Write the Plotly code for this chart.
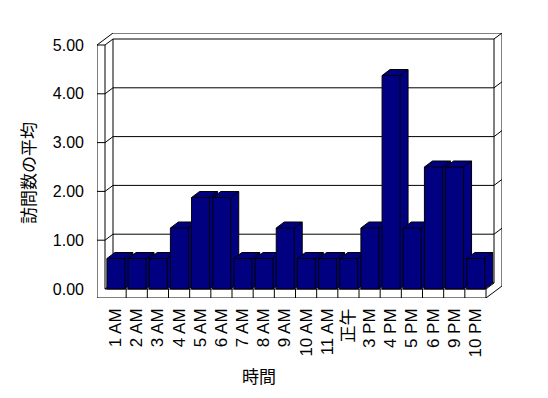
import plotly.graph_objects as go

categories = ["1 AM", "2 AM", "3 AM", "4 AM", "5 AM", "6 AM", "7 AM", "8 AM", "9 AM",
              "10 AM", "11 AM", "正午", "3 PM", "4 PM", "5 PM", "6 PM", "9 PM", "10 PM"]
values = [0.625, 0.625, 0.625, 1.25, 1.875, 1.875, 0.625, 0.625, 1.25,
          0.625, 0.625, 0.625, 1.25, 4.375, 1.25, 2.5, 2.5, 0.625]
y_tickvals = [0, 1, 2, 3, 4, 5]
y_ticktext = ["0.00", "1.00", "2.00", "3.00", "4.00", "5.00"]
y_title = "訪問数の平均"
x_title = "時間"

N = len(categories)
VMAX = y_tickvals[-1]

# pseudo-3D projection (oblique), in data units
SX = 21.17   # px per category
SY = 48.8    # px per value unit
DX = 8 / SX  # depth offset (x) per depth unit
DY = 6 / SY  # depth offset (y) per depth unit
WALL = 8 / SX
FLOOR = 9 / SY

NAVY = "#000080"


def proj(c, v, d):
    return c + d * DX, v + d * DY


def path(*polylines):
    xs, ys = [], []
    for pl in polylines:
        for p in pl:
            x, y = proj(*p)
            xs.append(x)
            ys.append(y)
        xs.append(None)
        ys.append(None)
    return xs, ys


# frame (walls, floor, gridlines)
frame = [
    [(-WALL, -FLOOR, 0), (-WALL, VMAX, 0), (0, VMAX, 0), (0, 0, 0)],
    [(-WALL, -FLOOR, 0), (N, -FLOOR, 0), (N, 0, 0), (0, 0, 0)],
    [(N, -FLOOR, 0), (N, -FLOOR, 2), (N, VMAX, 2)],
    [(N, 0, 0), (N, 0, 1), (N, VMAX, 1)],
    [(-WALL, VMAX, 0), (-WALL, VMAX, 2), (N, VMAX, 2)],
    [(0, VMAX, 0), (0, VMAX, 1), (N, VMAX, 1), (N, VMAX, 2)],
    [(0, 0, 1), (0, VMAX, 1)],
    [(0, 0, 0), (0, 0, 1), (N, 0, 1)],
]
for k in range(1, N):
    frame.append([(k, -FLOOR, 0), (k, 0, 0)])
for v in y_tickvals[1:-1]:
    frame.append([(-WALL, v, 0), (0, v, 0), (0, v, 1), (N, v, 1), (N, v, 2)])

fig = go.Figure()
fx, fy = path(*frame)
fig.add_trace(go.Scatter(x=fx, y=fy, mode="lines", line=dict(color="black", width=1),
                         hoverinfo="skip", showlegend=False))

for i, v in enumerate(values):
    c0, c1 = i + 0.09, i + 0.94
    sx, sy = path([(c0, 0, 0), (c0, v, 0), (c0, v, 1), (c1, v, 1), (c1, 0, 1), (c1, 0, 0), (c0, 0, 0)])
    fig.add_trace(go.Scatter(x=sx[:-1], y=sy[:-1], mode="lines", fill="toself", fillcolor=NAVY,
                             line=dict(color="black", width=1), hoverinfo="skip", showlegend=False))
    ex, ey = path([(c0, v, 0), (c1, v, 0), (c1, v, 1)], [(c1, v, 0), (c1, 0, 0)])
    fig.add_trace(go.Scatter(x=ex, y=ey, mode="lines", line=dict(color="black", width=1),
                             hoverinfo="skip", showlegend=False))

W, H = 548, 398
L, R, T, B = 97, 46, 33, 100
pw, ph = W - L - R, H - T - B


def px2paper(px, py):
    return (px - L) / pw, (H - B - py) / ph


font_latin = "Liberation Sans, Arial, Noto Sans CJK JP, sans-serif"
font_cjk = "Noto Sans CJK JP, sans-serif"

ax, ay = px2paper(27, 173)
bx, by = px2paper(259, 375)

fig.update_layout(
    width=W, height=H, autosize=False,
    margin=dict(l=L, r=R, t=T, b=B, pad=0),
    paper_bgcolor="white", plot_bgcolor="white",
    showlegend=False,
    xaxis=dict(range=[-WALL, N + 2 * DX], showgrid=False, zeroline=False, showline=False,
               tickmode="array", tickvals=[i + 0.5 for i in range(N)], ticktext=categories,
               tickangle=-90, ticks="", ticklabelstandoff=6, automargin=False,
               tickfont=dict(family=font_latin, size=17, color="black"), fixedrange=True),
    yaxis=dict(range=[-FLOOR, VMAX + 2 * DY], showgrid=False, zeroline=False, showline=False,
               tickmode="array", tickvals=y_tickvals, ticktext=y_ticktext,
               ticks="", ticklabelstandoff=12, automargin=False,
               tickfont=dict(family=font_latin, size=16, color="black"), fixedrange=True),
    annotations=[
        dict(text=y_title, xref="paper", yref="paper", x=ax, y=ay, textangle=-90,
             showarrow=False, xanchor="center", yanchor="middle",
             font=dict(family=font_cjk, size=17, color="black")),
        dict(text=x_title, xref="paper", yref="paper", x=bx, y=by,
             showarrow=False, xanchor="center", yanchor="middle",
             font=dict(family=font_cjk, size=17, color="black")),
    ],
)

fig.write_html("out.html")
